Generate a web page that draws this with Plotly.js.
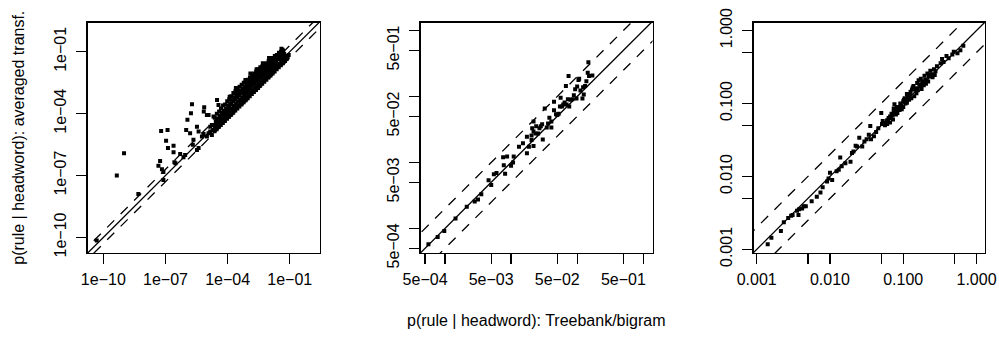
<!DOCTYPE html>
<html><head><meta charset="utf-8">
<script src="https://cdn.plot.ly/plotly-3.0.1.min.js"></script>
<style>html,body{margin:0;padding:0;background:#fff}#chart{width:999px;height:337px}</style>
</head><body><div id="chart"></div>
<script>
// ---------------- DATA (log10 of p(rule | headword)) ----------------
// Panel 1: all rules
const P1_LOG10_TREEBANK = [
 -10.32,-9.35,-9.0,-8.31,-7.34,-7.26,-7.21,-6.9,-7.17,-7.1,
 -7.1,-6.97,-6.88,-6.61,-6.61,-6.29,-6.13,-6.57,-6.52,-6.05,
 -5.94,-6.0,-5.77,-5.72,-5.81,-5.65,-5.68,-5.48,-5.4,-5.48,
 -5.4,-5.24,-5.13,-5.15,-5.16,-5.0,-4.92,-4.76,-4.68,-4.84,
 -4.6,-4.51,-4.92,-4.68,-4.51,-4.44,-3.9,-4.84,-4.76,-5.0,
 -2.9,-3.14,-2.3,-2.0,-2.6,-3.6,
 // upper part of the dense band
 -4.62,-4.57,
 -4.52,-4.47,-4.54,
 -4.41,-4.37,-4.44,
 -4.32,-4.27,-4.34,-4.29,
 -4.22,-4.17,-4.24,-4.19,
 -4.12,-4.07,-4.14,-4.09,
 -4.02,-3.97,-4.04,-3.99,
 -3.92,-3.87,-3.94,-3.89,
 -3.82,-3.77,-3.84,-3.79,
 -3.72,-3.67,-3.74,-3.69,
 -3.62,-3.57,-3.64,-3.59,
 -3.52,-3.47,-3.54,-3.49,
 -3.42,-3.37,-3.44,-3.39,
 -3.32,-3.27,-3.34,-3.29,
 -3.22,-3.17,-3.24,-3.19,
 -3.12,-3.07,-3.14,-3.09,
 -3.02,-2.97,-3.04,-2.99,
 -2.92,-2.87,-2.94,-2.89,
 -2.82,-2.77,-2.84,-2.79,
 -2.72,-2.67,-2.74,-2.69,
 -2.62,-2.57,-2.64,-2.59,
 -2.52,-2.47,-2.54,-2.49,
 -2.42,-2.37,-2.44,-2.39,
 -2.32,-2.27,-2.34,-2.29,
 -2.22,-2.17,-2.24,-2.19,
 -2.12,-2.07,-2.14,-2.09,
 -2.02,-1.97,-2.04,-1.99,
 -1.92,-1.87,-1.94,-1.89,
 -1.82,-1.77,-1.84,-1.79,
 -1.72,-1.67,-1.74,-1.69,
 -1.62,-1.57,-1.64,
 -1.52,-1.47,-1.54,
 -1.42,-1.37,-1.44,
 -1.32,-1.27,-1.34,
 -1.2,-1.15,-1.1,-1.25,-1.05,-1.35,-1.4,-1.3,
 // lower part of the dense band (around and just below the diagonal)
 -4.58,-4.63, -4.48,-4.53, -4.38,-4.43, -4.28,-4.33, -4.18,-4.23,
 -4.08,-4.13, -3.98,-4.03, -3.88,-3.93, -3.78,-3.83, -3.68,-3.73,
 -3.58,-3.63, -3.48,-3.53, -3.38,-3.43, -3.28,-3.33, -3.18,-3.23,
 -3.08,-3.13, -2.98,-3.03, -2.88,-2.93, -2.78,-2.83, -2.68,-2.73,
 -2.58,-2.63, -2.48,-2.53, -2.38,-2.43, -2.28,-2.33, -2.18,-2.23,
 -2.08,-2.13, -1.98,-2.03, -1.88,-1.93, -1.78,-1.83, -1.68,-1.73,
 -1.58,-1.63, -1.48,-1.53, -1.38,-1.43, -1.28,-1.33, -1.18,-1.23
];
const P1_LOG10_AVERAGED = [
 -10.15,-7.0,-5.92,-7.89,-6.52,-6.29,-4.84,-4.79,-6.69,-6.83,
 -7.21,-5.31,-5.67,-5.56,-5.87,-5.95,-6.11,-6.36,-6.4,-6.0,
 -4.3,-4.79,-3.98,-3.54,-4.95,-5.27,-5.51,-5.76,-5.67,-4.63,
 -4.87,-5.11,-3.69,-3.9,-4.98,-5.11,-4.95,-5.03,-4.79,-4.63,
 -4.55,-4.31,-4.06,-4.14,-3.34,-3.58,-3.18,-4.87,-4.55,-4.06,
 -2.05,-2.37,-1.55,-1.3,-1.85,-2.75,
 -4.2,-4.4,
 -4.0,-4.25,-4.45,
 -3.9,-4.1,-4.3,
 -3.75,-3.95,-4.15,-4.3,
 -3.6,-3.85,-4.05,-4.2,
 -3.55,-3.75,-3.95,-4.1,
 -3.4,-3.6,-3.8,-3.95,
 -3.3,-3.5,-3.7,-3.85,
 -3.15,-3.35,-3.55,-3.75,
 -3.0,-3.2,-3.4,-3.6,
 -2.9,-3.1,-3.3,-3.5,
 -2.8,-3.0,-3.2,-3.4,
 -2.7,-2.9,-3.1,-3.3,
 -2.6,-2.8,-3.0,-3.2,
 -2.5,-2.7,-2.9,-3.1,
 -2.45,-2.6,-2.8,-2.95,
 -2.35,-2.5,-2.7,-2.85,
 -2.25,-2.4,-2.6,-2.75,
 -2.15,-2.3,-2.5,-2.65,
 -2.05,-2.2,-2.4,-2.55,
 -1.95,-2.1,-2.3,-2.45,
 -1.85,-2.0,-2.2,-2.35,
 -1.75,-1.9,-2.1,-2.25,
 -1.7,-1.85,-2.0,-2.15,
 -1.6,-1.75,-1.9,-2.05,
 -1.55,-1.7,-1.85,-1.95,
 -1.45,-1.6,-1.75,-1.9,
 -1.4,-1.5,-1.65,-1.8,
 -1.3,-1.45,-1.55,-1.7,
 -1.2,-1.35,-1.5,-1.6,
 -1.15,-1.3,-1.45,
 -1.05,-1.2,-1.35,
 -1.0,-1.15,-1.3,
 -0.95,-1.1,-1.25,
 -1.2,-1.35,-1.25,-1.45,-1.15,-0.9,-0.85,-1.5,
 -4.7,-4.85, -4.6,-4.75, -4.5,-4.65, -4.4,-4.55, -4.3,-4.45,
 -4.2,-4.35, -4.1,-4.25, -4.0,-4.15, -3.9,-4.05, -3.8,-3.95,
 -3.7,-3.85, -3.6,-3.75, -3.5,-3.65, -3.4,-3.55, -3.3,-3.45,
 -3.2,-3.35, -3.1,-3.25, -3.0,-3.15, -2.9,-3.05, -2.8,-2.95,
 -2.7,-2.85, -2.6,-2.75, -2.5,-2.65, -2.4,-2.55, -2.3,-2.45,
 -2.2,-2.35, -2.1,-2.25, -2.0,-2.15, -1.9,-2.05, -1.8,-1.95,
 -1.7,-1.85, -1.6,-1.75, -1.5,-1.65, -1.4,-1.55, -1.3,-1.45
];

// Panel 2
const P2_LOG10_TREEBANK = [
 -3.25,-3.11,-3.01,-2.84,-2.67,-2.55,-2.50,-2.45,-2.34,-2.30,
 -2.26,-2.22,-2.11,-2.12,-2.06,-1.97,-1.96,-2.0,-1.82,-1.76,
 -1.76,-1.73,-1.69,-1.68,-1.66,-1.66,-1.66,-1.62,-1.59,-1.57,
 -1.53,-1.52,-1.49,-1.46,-1.42,-1.39,-1.39,-1.35,-1.35,-1.30,
 -1.28,-1.26,-1.25,-1.21,-1.17,-1.16,-1.14,-1.13,-1.12,-1.10,
 -1.07,-1.05,-1.03,-1.01,-1.0,-0.97,-0.95,-0.92,-0.91,-0.90,
 -0.88,-0.86,-0.84,-0.83,-0.82,-0.77,-1.69,-1.63,-1.55,-1.44,
 -1.32,-1.23,-1.19,-1.88,-2.09,-0.98
];
const P2_LOG10_AVERAGED = [
 -3.24,-3.13,-3.04,-2.85,-2.67,-2.59,-2.56,-2.48,-2.27,-2.34,
 -2.18,-2.16,-2.04,-1.92,-1.91,-2.0,-1.91,-2.05,-1.71,-1.86,
 -1.61,-1.76,-1.66,-1.48,-1.53,-1.75,-1.38,-1.45,-1.56,-1.48,
 -1.42,-1.65,-1.18,-1.47,-1.32,-1.47,-1.38,-1.21,-1.08,-1.28,
 -1.26,-1.15,-1.02,-1.12,-0.84,-1.12,-1.04,-0.69,-1.15,-1.05,
 -1.04,-0.98,-0.89,-1.03,-0.85,-0.73,-0.91,-1.03,-0.86,-0.97,
 -0.84,-0.77,-0.64,-0.48,-0.69,-0.68,-1.59,-1.56,-1.45,-1.41,
 -1.27,-1.15,-1.09,-1.76,-2.17,-0.75
];

// Panel 3
const P3_LOG10_TREEBANK = [
 -2.85,-2.80,-2.67,-2.63,-2.57,-2.53,-2.51,-2.45,-2.43,-2.42,
 -2.38,-2.36,-2.33,-2.25,-2.18,-2.13,-2.10,-2.04,-2.02,-2.0,
 -1.97,-1.91,-1.88,-1.86,-1.84,-1.79,-1.72,-1.70,-1.68,-1.65,
 -1.63,-1.60,-1.56,-1.53,-1.50,-1.47,-1.45,-1.44,-1.40,-1.37,
 -1.34,-1.30,-1.29,-1.22,-1.20,-1.18,-1.15,-1.13,-1.12,-1.11,
 -1.08,-1.06,-1.04,-1.02,-1.0,-0.98,-0.96,-0.95,-0.93,-0.90,
 -0.88,-0.86,-0.83,-0.81,-0.79,-0.77,-0.76,-0.73,-0.71,-0.70,
 -0.67,-0.65,-0.63,-0.61,-0.58,-0.56,-0.54,-0.49,-0.47,-0.45,
 -0.41,-0.38,-0.33,-0.31,-0.26,-0.22,-0.18,
 -1.13,-1.07,-1.18,-0.87,-0.74,-0.68,-0.62,-0.81,-0.91,-0.97,
 -1.03,-1.22,-1.26,-1.14,-1.12,
 -1.25,-1.21,-1.17,-1.1,-1.05,-1.0,-0.95,-0.92,-0.89,-0.85,
 -0.82,-0.8,-0.75,-0.72,-0.69,-0.66,-0.6,-0.57,-1.28,-1.16,
 -1.09,-0.99,-0.94,-0.84,-0.78,-0.64
];
const P3_LOG10_AVERAGED = [
 -2.93,-2.84,-2.75,-2.63,-2.57,-2.54,-2.53,-2.47,-2.53,-2.45,
 -2.44,-2.41,-2.41,-2.34,-2.28,-2.22,-2.15,-2.07,-2.03,-1.95,
 -2.05,-1.93,-1.91,-1.74,-1.86,-1.82,-1.80,-1.68,-1.66,-1.58,
 -1.59,-1.47,-1.59,-1.52,-1.49,-1.43,-1.31,-1.49,-1.45,-1.39,
 -1.34,-1.13,-1.28,-1.23,-1.20,-1.26,-1.16,-1.11,-1.01,-1.08,
 -1.13,-1.05,-1.0,-1.08,-0.97,-0.93,-0.96,-0.87,-0.91,-0.84,
 -0.81,-0.76,-0.81,-0.72,-0.68,-0.76,-0.66,-0.70,-0.62,-0.67,
 -0.59,-0.63,-0.55,-0.60,-0.53,-0.56,-0.49,-0.45,-0.39,-0.43,
 -0.35,-0.38,-0.33,-0.29,-0.31,-0.27,-0.21,
 -1.07,-1.09,-1.18,-0.78,-0.71,-0.68,-0.61,-0.79,-0.88,-1.0,
 -1.03,-1.28,-1.27,-1.22,-1.13,
 -1.3,-1.25,-1.2,-1.15,-1.09,-1.05,-0.99,-0.95,-0.93,-0.9,
 -0.86,-0.82,-0.8,-0.75,-0.73,-0.7,-0.64,-0.61,-1.24,-1.14,
 -1.05,-0.95,-0.92,-0.8,-0.74,-0.62
];

// reference lines: y = x, y = 2x, y = x/2
const REF_FACTOR = 2;

// tick labels
const P1_TICKVALS = [1e-10, 1e-7, 1e-4, 1e-1];
const P1_TICKTEXT = ['1e\u221210', '1e\u221207', '1e\u221204', '1e\u221201'];
const P2_TICKVALS = [5e-4, 1e-3, 5e-3, 1e-2, 5e-2, 1e-1, 5e-1, 1];
const P2_TICKTEXT = ['5e\u221204', '', '5e\u221203', '', '5e\u221202', '', '5e\u221201', ''];
const P3_TICKVALS = [0.001, 0.005, 0.01, 0.05, 0.1, 0.5, 1];
const P3_TICKTEXT = ['0.001', '', '0.010', '', '0.100', '', '1.000'];

const X_TITLE = 'p(rule | headword): Treebank/bigram';
const Y_TITLE = 'p(rule | headword): averaged transf.';

// ---------------- LAYOUT ----------------
const W = 999, H = 337;
const FONT = 'Liberation Sans, Arial, Helvetica, sans-serif';
const BOX_TOP = 22.5, BOX_BOTTOM = 253;
const PANEL_LEFT = [87.5, 420.5, 753.5];
const PANEL_RIGHT = [319.5, 652.5, 985];
const X_RANGES = [[-10.765, 0.437], [-3.37, 0.14], [-3.044, 0.116]];
const Y_RANGES = [[-10.755, 0.42], [-3.372, 0.122], [-3.05, 0.11]];

const toP = a => a.map(v => Math.pow(10, v));

const panels = [
  {x: P1_LOG10_TREEBANK, y: P1_LOG10_AVERAGED, tv: P1_TICKVALS, tt: P1_TICKTEXT},
  {x: P2_LOG10_TREEBANK, y: P2_LOG10_AVERAGED, tv: P2_TICKVALS, tt: P2_TICKTEXT},
  {x: P3_LOG10_TREEBANK, y: P3_LOG10_AVERAGED, tv: P3_TICKVALS, tt: P3_TICKTEXT}
];

const traces = [];
const layout = {
  width: W, height: H,
  margin: {l: 0, r: 0, t: 0, b: 0},
  paper_bgcolor: '#fff', plot_bgcolor: '#fff',
  showlegend: false,
  font: {family: FONT, size: 16, color: '#000'},
  annotations: [
    {text: X_TITLE, xref: 'paper', yref: 'paper', x: 536 / W, y: (H - 320) / H,
     xanchor: 'center', yanchor: 'middle', showarrow: false, font: {family: FONT, size: 16, color: '#000'}},
    {text: Y_TITLE, xref: 'paper', yref: 'paper', x: 19 / W, y: (H - (BOX_TOP + BOX_BOTTOM) / 2) / H,
     xanchor: 'center', yanchor: 'middle', textangle: -90, showarrow: false, font: {family: FONT, size: 16, color: '#000'}}
  ]
};

const axisCommon = {
  type: 'log', showline: true, mirror: true, linecolor: '#000', linewidth: 1.3,
  ticks: 'outside', ticklen: 10, tickwidth: 1.3, tickcolor: '#000',
  showgrid: false, zeroline: false, tickmode: 'array', fixedrange: true,
  tickfont: {family: FONT, size: 16, color: '#000'}
};

panels.forEach((p, i) => {
  const xa = i === 0 ? 'x' : 'x' + (i + 1);
  const ya = i === 0 ? 'y' : 'y' + (i + 1);
  const xr = X_RANGES[i];
  // reference line endpoints span beyond the full axis range (clipped by the plot area)
  const lx = [Math.pow(10, xr[0] - 1), Math.pow(10, xr[1] + 1)];
  traces.push({x: lx, y: lx, xaxis: xa, yaxis: ya, mode: 'lines', line: {color: '#000', width: 1.3}, hoverinfo: 'skip'});
  traces.push({x: lx, y: lx.map(v => v * REF_FACTOR), xaxis: xa, yaxis: ya, mode: 'lines', line: {color: '#000', width: 1.3, dash: '10px,9px'}, hoverinfo: 'skip'});
  traces.push({x: lx, y: lx.map(v => v / REF_FACTOR), xaxis: xa, yaxis: ya, mode: 'lines', line: {color: '#000', width: 1.3, dash: '10px,9px'}, hoverinfo: 'skip'});
  traces.push({x: toP(p.x), y: toP(p.y), xaxis: xa, yaxis: ya, mode: 'markers', type: 'scatter',
    marker: {symbol: 'square', size: 4, color: '#000', line: {width: 0}}});

  const xKey = i === 0 ? 'xaxis' : 'xaxis' + (i + 1);
  const yKey = i === 0 ? 'yaxis' : 'yaxis' + (i + 1);
  layout[xKey] = Object.assign({}, axisCommon, {
    domain: [PANEL_LEFT[i] / W, PANEL_RIGHT[i] / W], anchor: ya,
    range: X_RANGES[i], tickvals: p.tv, ticktext: p.tt, ticklabelstandoff: 1
  });
  layout[yKey] = Object.assign({}, axisCommon, {
    domain: [(H - BOX_BOTTOM) / H, (H - BOX_TOP) / H], anchor: xa,
    range: Y_RANGES[i], tickvals: p.tv, ticktext: p.tt, tickangle: -90, ticklabelstandoff: 4
  });
});

Plotly.newPlot('chart', traces, layout, {staticPlot: true, displayModeBar: false});
</script>
</body></html>
